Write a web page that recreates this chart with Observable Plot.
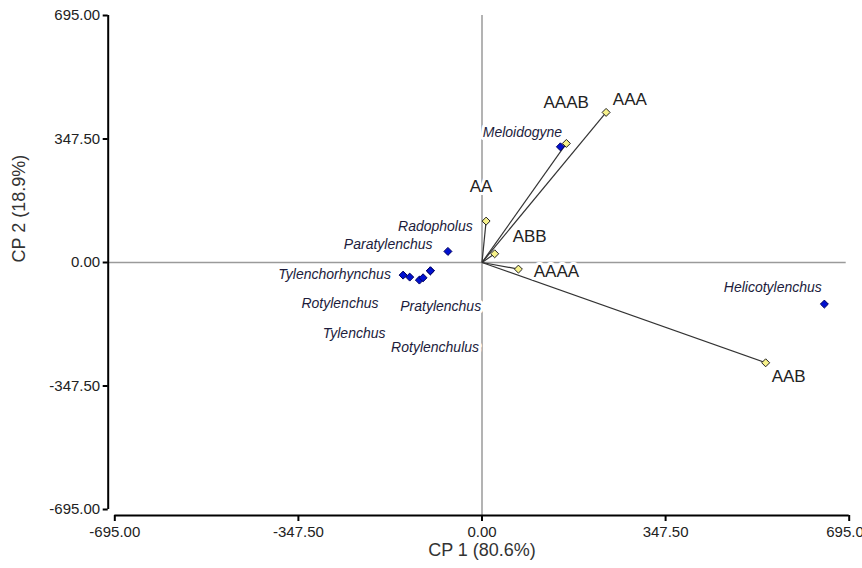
<!DOCTYPE html>
<html>
<head>
<meta charset="utf-8">
<script src="https://cdn.jsdelivr.net/npm/d3@7"></script>
<script src="https://cdn.jsdelivr.net/npm/@observablehq/plot@0.6"></script>
<style>
  html, body { margin: 0; padding: 0; background: #fff; }
  #chart { width: 862px; height: 568px; overflow: hidden; }
</style>
</head>
<body>
<div id="chart"></div>
<script>
// Axis ticks
const axisTicks = [-695, -347.5, 0, 347.5, 695];
const xTitle = "CP 1 (80.6%)";
const yTitle = "CP 2 (18.9%)";

// Variables (vectors, yellow points)
const vecNames = ["AAA", "AAAB", "AA", "ABB", "AAAA", "AAB"];
const vecX = [234.9, 159.7, 7.8, 24.0, 68.9, 536.9];
const vecY = [422.3, 335.0, 116.5, 24.5, -18.6, -282.2];
const vecLabelX = [279.9, 159.3, -1.7, 90.3, 140.8, 580.4];
const vecLabelY = [458.9, 449.4, 213.0, 74.3, -24.2, -321.6];

// Observations (genera, blue points)
const spNames = ["Meloidogyne", "Helicotylenchus", "Paratylenchus", "Tylenchorhynchus",
  "Rotylenchus", "Tylenchus", "Rotylenchulus", "Pratylenchus", "Radopholus"];
const spX = [148.4, 648.0, -64.5, -149.3, -136.8, -118.5, -111.5, -97.7, -97.7];
const spY = [325.5, -117.0, 31.2, -35.5, -41.1, -49.5, -43.0, -23.4, -23.4];
const spLabelX = [76.5, 550.5, -177.5, -279.0, -268.9, -242.0, -88.8, -78.2, -88.2];
const spLabelY = [364.9, -70.1, 50.9, -33.5, -115.1, -199.5, -240.0, -124.6, 102.4];

const vectors = vecNames.map((n, i) => ({name: n, x: vecX[i], y: vecY[i], lx: vecLabelX[i], ly: vecLabelY[i]}));
const species = spNames.map((n, i) => ({name: n, x: spX[i], y: spY[i], lx: spLabelX[i], ly: spLabelY[i]}));

const fmt = d => d.toFixed(2);

const chart = Plot.plot({
  width: 862,
  height: 568,
  marginLeft: 114.3,
  marginRight: 13.3,
  marginTop: 15,
  marginBottom: 59,
  style: {fontFamily: "Arial, 'Liberation Sans', sans-serif", background: "#fff", overflow: "hidden"},
  x: {domain: [-695, 695], axis: null},
  y: {domain: [-695, 695], axis: null},
  marks: [
    // zero reference lines
    Plot.ruleY([0], {stroke: "#9a9a9a", strokeWidth: 1.5, insetLeft: -7, insetRight: 3}),
    Plot.ruleX([0], {stroke: "#9a9a9a", strokeWidth: 1.5, insetBottom: -6}),
    // axis lines
    Plot.ruleY([-695], {stroke: "#000", strokeWidth: 2, dy: 6}),
    Plot.ruleX([-695], {stroke: "#000", strokeWidth: 2, dx: -6.6}),
    Plot.axisX({ticks: axisTicks, tickFormat: fmt, tickSize: 6, tickPadding: 5, dy: 6,
      stroke: "#000", strokeWidth: 2, fontSize: 15, fill: "#222", label: null}),
    Plot.axisY({ticks: axisTicks, tickFormat: fmt, tickSize: 5, tickPadding: 3, dx: -6.6,
      stroke: "#000", strokeWidth: 2, fontSize: 15, fill: "#222", label: null}),
    // axis titles
    Plot.text([xTitle], {frameAnchor: "bottom", dy: 46, fontSize: 18, fill: "#333"}),
    Plot.text([yTitle], {frameAnchor: "left", dx: -96, rotate: -90, fontSize: 18, fill: "#333"}),
    // vectors
    Plot.link(vectors, {x1: () => 0, y1: () => 0, x2: "x", y2: "y", stroke: "#333", strokeWidth: 1.2}),
    // labels with white background
    Plot.text(vectors, {x: "lx", y: "ly", text: "name", fontSize: 17, fill: "#222",
      stroke: "white", strokeWidth: 6, paintOrder: "stroke"}),
    Plot.text(species, {x: "lx", y: "ly", text: "name", fontSize: 14, fontStyle: "italic", fill: "#1c1c3c",
      stroke: "white", strokeWidth: 6, paintOrder: "stroke"}),
    // points
    Plot.dot(vectors, {x: "x", y: "y", symbol: "diamond2", r: 3.6, fill: "#f6f18a", stroke: "#222", strokeWidth: 1}),
    Plot.dot(species, {x: "x", y: "y", symbol: "diamond2", r: 3.6, fill: "#0010d0", stroke: "#000060", strokeWidth: 1})
  ]
});
document.getElementById("chart").appendChild(chart);
</script>
</body>
</html>
